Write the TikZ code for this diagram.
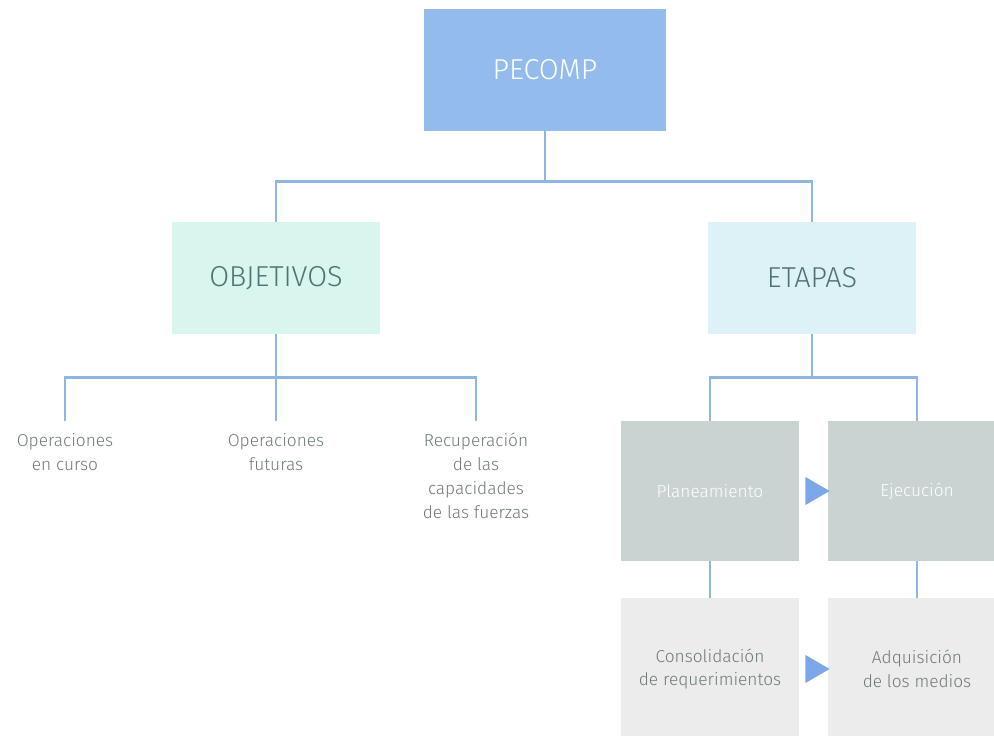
\documentclass[tikz,border=0pt]{standalone}
\usepackage{fontspec}
\setmainfont{Fira Sans Light}
\usepackage{xcolor}
\usepackage{tikz}
\usetikzlibrary{arrows.meta,positioning,shapes.geometric,calc}
\definecolor{linkblue}{HTML}{8DB6E2}
\definecolor{headblue}{HTML}{93BBEC}
\definecolor{objfill}{HTML}{D8F5EE}
\definecolor{etafill}{HTML}{DDF2F7}
\definecolor{stepgray}{HTML}{C9D3D1}
\definecolor{taskgray}{HTML}{ECECEC}
\definecolor{tealtext}{HTML}{4F7372}
\definecolor{graytext}{HTML}{6F7A79}
\definecolor{triblue}{HTML}{7CA8EA}
\tikzset{
  headbox/.style={rectangle,fill=headblue,text=white,minimum width=6.05cm,minimum height=3.025cm,font=\fontsize{20.5}{24}\selectfont},
  groupbox/.style={rectangle,text=tealtext,minimum width=5.2cm,minimum height=2.8cm,font=\fontsize{20.5}{24}\selectfont},
  stepbox/.style={rectangle,fill=stepgray,text=white,minimum width=4.45cm,minimum height=3.5cm,align=center,font=\fontsize{12.3}{17}\selectfont},
  taskbox/.style={rectangle,fill=taskgray,text=graytext,minimum width=4.45cm,minimum height=3.55cm,align=center,font=\fontsize{12.3}{17}\selectfont},
  leaf/.style={inner sep=0pt,anchor=north,align=center,text=graytext,font=\fontsize{12.3}{17}\selectfont},
  tri/.style={isosceles triangle,isosceles triangle apex angle=60,fill=triblue,inner sep=0pt,minimum height=0.4cm,minimum width=0.7cm},
  link/.style={draw=linkblue,line width=1.9pt}
}

\begin{document}
\begin{tikzpicture}[x=0.025cm,y=-0.025cm]
  \useasboundingbox (0,0) rectangle (994,736);

  \node[headbox] (pecomp) at (545,70) {PECOMP};
  \node[groupbox,fill=objfill] (objetivos) at (276,278) {OBJETIVOS};
  \node[groupbox,fill=etafill] (etapas) at (812,278) {ETAPAS};

  \node[leaf] (curso) at (65,433) {Operaciones\\en curso};
  \node[leaf] (futuras) at (276,433) {Operaciones\\futuras};
  \node[leaf] (recup) at (476,433) {Recuperación\\de las\\capacidades\\de las fuerzas};

  \node[stepbox] (plan) at (710,491) {Planeamiento};
  \node[stepbox] (ejec) at (917,491) {Ejecución};
  \node[taskbox] (consol) at (710,669) {Consolidación\\de requerimientos};
  \node[taskbox] (adqui) at (917,669) {Adquisición\\de los medios};

  \node[tri] (t1) at ($(plan.east)!0.5!(ejec.west)$) {};
  \node[tri] (t2) at ($(consol.east)!0.5!(adqui.west)$) {};

  % tree
  \draw[link] (pecomp.south) -- ++(0,51) coordinate (topbar);
  \draw[link] (topbar) -| (objetivos.north);
  \draw[link] (topbar) -| (etapas.north);

  \draw[link] (objetivos.south) -- ++(0,43) coordinate (objbar);
  \foreach \n in {curso,futuras,recup}
    \draw[link,shorten >=0.3cm] (objbar) -| (\n.north);

  \draw[link] (etapas.south) -- ++(0,43) coordinate (etabar);
  \draw[link] (etabar) -| (plan.north);
  \draw[link] (etabar) -| (ejec.north);

  \draw[link] (plan) -- (consol);
  \draw[link] (ejec) -- (adqui);
\end{tikzpicture}
\end{document}
